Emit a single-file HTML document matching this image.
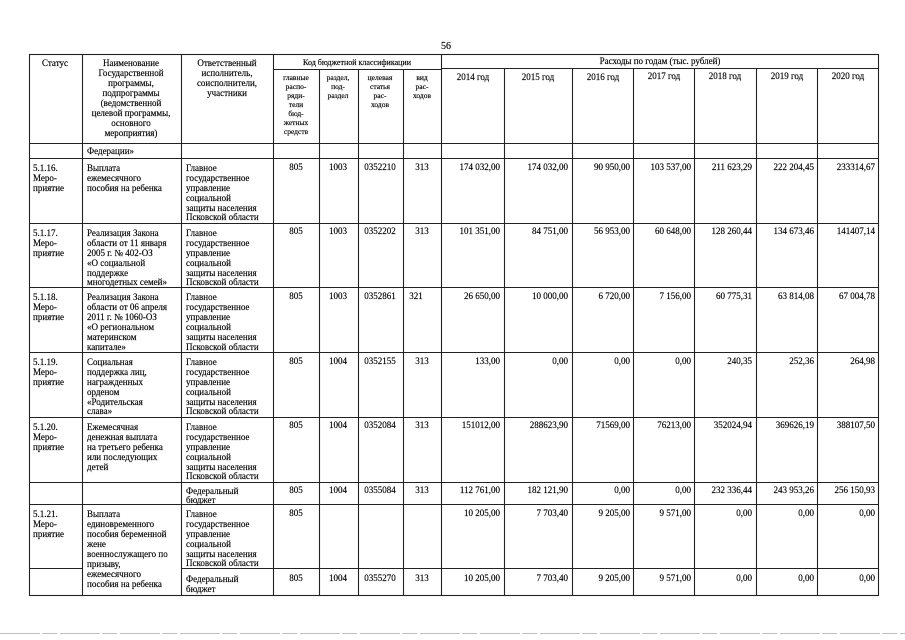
<!DOCTYPE html>
<html><head><meta charset="utf-8"><style>
html,body{margin:0;padding:0;background:#fff;}
svg{display:block;}
text{font-family:"Liberation Serif","DejaVu Serif",serif;font-size:9px;fill:#000;stroke:#000;stroke-width:0.15px;}
.c{text-anchor:middle}.r{text-anchor:end}
</style></head><body>
<svg width="905" height="640" viewBox="0 0 905 640" xmlns="http://www.w3.org/2000/svg">
<rect width="905" height="640" fill="#fff"/>
<g stroke="#222" stroke-width="1.1" fill="none">
<rect x="29.5" y="54.5" width="849" height="541"/>
<line x1="82.5" y1="54" x2="82.5" y2="596"/>
<line x1="181.5" y1="54" x2="181.5" y2="596"/>
<line x1="273.5" y1="54" x2="273.5" y2="596"/>
<line x1="319.5" y1="69" x2="319.5" y2="596"/>
<line x1="358.5" y1="69" x2="358.5" y2="596"/>
<line x1="403.5" y1="69" x2="403.5" y2="596"/>
<line x1="441.5" y1="54" x2="441.5" y2="596"/>
<line x1="504.5" y1="68" x2="504.5" y2="596"/>
<line x1="572.5" y1="68" x2="572.5" y2="596"/>
<line x1="633.5" y1="68" x2="633.5" y2="596"/>
<line x1="694.5" y1="68" x2="694.5" y2="596"/>
<line x1="756.5" y1="68" x2="756.5" y2="596"/>
<line x1="817.5" y1="68" x2="817.5" y2="596"/>
<line x1="273" y1="69.5" x2="441" y2="69.5"/>
<line x1="441" y1="68.5" x2="878" y2="68.5"/>
<line x1="29" y1="143.5" x2="878" y2="143.5"/>
<line x1="29" y1="158.5" x2="878" y2="158.5"/>
<line x1="29" y1="223.5" x2="878" y2="223.5"/>
<line x1="29" y1="287.5" x2="878" y2="287.5"/>
<line x1="29" y1="352.5" x2="878" y2="352.5"/>
<line x1="29" y1="417.5" x2="878" y2="417.5"/>
<line x1="29" y1="482.5" x2="878" y2="482.5"/>
<line x1="29" y1="504.5" x2="878" y2="504.5"/>
<line x1="29" y1="568.5" x2="82" y2="568.5"/>
<line x1="181" y1="568.5" x2="878" y2="568.5"/>
</g>
<text x="446" y="49" class="c" style="font-size:10px">56</text>
<text x="55" y="66" class="c">Статус</text>
<text x="131" y="66" class="c">Наименование</text>
<text x="131" y="76" class="c">Государственной</text>
<text x="131" y="86" class="c">программы,</text>
<text x="131" y="96" class="c">подпрограммы</text>
<text x="131" y="106" class="c">(ведомственной</text>
<text x="131" y="116" class="c">целевой программы,</text>
<text x="131" y="126" class="c">основного</text>
<text x="131" y="136" class="c">мероприятия)</text>
<text x="227" y="66" class="c">Ответственный</text>
<text x="227" y="76" class="c">исполнитель,</text>
<text x="227" y="86" class="c">соисполнители,</text>
<text x="227" y="96" class="c">участники</text>
<text x="357" y="65" class="c" style="font-size:8px">Код бюджетной классификации</text>
<text x="660" y="64" class="c">Расходы по годам (тыс. рублей)</text>
<text x="296" y="80" class="c" style="font-size:7.5px">главные</text>
<text x="296" y="89" class="c" style="font-size:7.5px">распо-</text>
<text x="296" y="98" class="c" style="font-size:7.5px">ряди-</text>
<text x="296" y="107" class="c" style="font-size:7.5px">тели</text>
<text x="296" y="116" class="c" style="font-size:7.5px">бюд-</text>
<text x="296" y="125" class="c" style="font-size:7.5px">жетных</text>
<text x="296" y="134" class="c" style="font-size:7.5px">средств</text>
<text x="338" y="80" class="c" style="font-size:7.5px">раздел,</text>
<text x="338" y="89" class="c" style="font-size:7.5px">под-</text>
<text x="338" y="98" class="c" style="font-size:7.5px">раздел</text>
<text x="380" y="80" class="c" style="font-size:7.5px">целевая</text>
<text x="380" y="89" class="c" style="font-size:7.5px">статья</text>
<text x="380" y="98" class="c" style="font-size:7.5px">рас-</text>
<text x="380" y="107" class="c" style="font-size:7.5px">ходов</text>
<text x="422" y="80" class="c" style="font-size:7.5px">вид</text>
<text x="422" y="89" class="c" style="font-size:7.5px">рас-</text>
<text x="422" y="98" class="c" style="font-size:7.5px">ходов</text>
<text x="473" y="80" class="c">2014 год</text>
<text x="538" y="80" class="c">2015 год</text>
<text x="603" y="80" class="c">2016 год</text>
<text x="664" y="79" class="c">2017 год</text>
<text x="725" y="79" class="c">2018 год</text>
<text x="787" y="79" class="c">2019 год</text>
<text x="848" y="79" class="c">2020 год</text>
<text x="87" y="154">Федерации»</text>

<text x="33" y="171">5.1.16.</text><text x="33" y="181">Меро-</text><text x="33" y="191">приятие</text>
<text x="87" y="171">Выплата</text><text x="87" y="181">ежемесячного</text><text x="87" y="191">пособия на ребенка</text>
<text x="33" y="236">5.1.17.</text><text x="33" y="246">Меро-</text><text x="33" y="256">приятие</text>
<text x="87" y="236">Реализация Закона</text><text x="87" y="246">области от 11 января</text><text x="87" y="256">2005 г. № 402-ОЗ</text><text x="87" y="266">«О социальной</text><text x="87" y="276">поддержке</text><text x="87" y="285">многодетных семей»</text>
<text x="33" y="300">5.1.18.</text><text x="33" y="310">Меро-</text><text x="33" y="320">приятие</text>
<text x="87" y="300">Реализация Закона</text><text x="87" y="310">области от 06 апреля</text><text x="87" y="320">2011 г. № 1060-ОЗ</text><text x="87" y="330">«О региональном</text><text x="87" y="340">материнском</text><text x="87" y="350">капитале»</text>
<text x="33" y="365">5.1.19.</text><text x="33" y="375">Меро-</text><text x="33" y="385">приятие</text>
<text x="87" y="365">Социальная</text><text x="87" y="375">поддержка лиц,</text><text x="87" y="385">награжденных</text><text x="87" y="395">орденом</text><text x="87" y="405">«Родительская</text><text x="87" y="414">слава»</text>
<text x="33" y="430">5.1.20.</text><text x="33" y="440">Меро-</text><text x="33" y="450">приятие</text>
<text x="87" y="430">Ежемесячная</text><text x="87" y="440">денежная выплата</text><text x="87" y="450">на третьего ребенка</text><text x="87" y="460">или последующих</text><text x="87" y="470">детей</text>
<text x="33" y="517">5.1.21.</text><text x="33" y="527">Меро-</text><text x="33" y="537">приятие</text>
<text x="87" y="517">Выплата</text><text x="87" y="527">единовременного</text><text x="87" y="537">пособия беременной</text><text x="87" y="547">жене</text><text x="87" y="557">военнослужащего по</text><text x="87" y="567">призыву,</text><text x="87" y="577">ежемесячного</text><text x="87" y="587">пособия на ребенка</text>

<text x="186" y="171">Главное</text><text x="186" y="181">государственное</text><text x="186" y="191">управление</text><text x="186" y="201">социальной</text><text x="186" y="211">защиты населения</text><text x="186" y="220">Псковской области</text>
<text x="186" y="236">Главное</text><text x="186" y="246">государственное</text><text x="186" y="256">управление</text><text x="186" y="266">социальной</text><text x="186" y="276">защиты населения</text><text x="186" y="285">Псковской области</text>
<text x="186" y="300">Главное</text><text x="186" y="310">государственное</text><text x="186" y="320">управление</text><text x="186" y="330">социальной</text><text x="186" y="340">защиты населения</text><text x="186" y="350">Псковской области</text>
<text x="186" y="365">Главное</text><text x="186" y="375">государственное</text><text x="186" y="385">управление</text><text x="186" y="395">социальной</text><text x="186" y="405">защиты населения</text><text x="186" y="414">Псковской области</text>
<text x="186" y="430">Главное</text><text x="186" y="440">государственное</text><text x="186" y="450">управление</text><text x="186" y="460">социальной</text><text x="186" y="470">защиты населения</text><text x="186" y="479">Псковской области</text>
<text x="186" y="494">Федеральный</text><text x="186" y="503">бюджет</text>
<text x="186" y="517">Главное</text><text x="186" y="527">государственное</text><text x="186" y="537">управление</text><text x="186" y="547">социальной</text><text x="186" y="557">защиты населения</text><text x="186" y="566">Псковской области</text>
<text x="186" y="582">Федеральный</text><text x="186" y="592">бюджет</text>

<text x="296" y="170" class="c">805</text><text x="338" y="170" class="c">1003</text><text x="380" y="170" class="c">0352210</text><text x="422" y="170" class="c">313</text>
<text x="296" y="234" class="c">805</text><text x="338" y="234" class="c">1003</text><text x="380" y="234" class="c">0352202</text><text x="422" y="234" class="c">313</text>
<text x="296" y="299" class="c">805</text><text x="338" y="299" class="c">1003</text><text x="380" y="299" class="c">0352861</text><text x="416" y="299" class="c">321</text>
<text x="296" y="364" class="c">805</text><text x="338" y="364" class="c">1004</text><text x="380" y="364" class="c">0352155</text><text x="422" y="364" class="c">313</text>
<text x="296" y="428" class="c">805</text><text x="338" y="428" class="c">1004</text><text x="380" y="428" class="c">0352084</text><text x="422" y="428" class="c">313</text>
<text x="296" y="493" class="c">805</text><text x="338" y="493" class="c">1004</text><text x="380" y="493" class="c">0355084</text><text x="422" y="493" class="c">313</text>
<text x="296" y="516" class="c">805</text>
<text x="296" y="581" class="c">805</text><text x="338" y="581" class="c">1004</text><text x="380" y="581" class="c">0355270</text><text x="422" y="581" class="c">313</text>

<text x="500" y="170" class="r">174 032,00</text><text x="568" y="170" class="r">174 032,00</text><text x="630" y="170" class="r">90 950,00</text><text x="691" y="170" class="r">103 537,00</text><text x="752" y="170" class="r">211 623,29</text><text x="814" y="170" class="r">222 204,45</text><text x="875" y="170" class="r">233314,67</text>
<text x="500" y="234" class="r">101 351,00</text><text x="568" y="234" class="r">84 751,00</text><text x="630" y="234" class="r">56 953,00</text><text x="691" y="234" class="r">60 648,00</text><text x="752" y="234" class="r">128 260,44</text><text x="814" y="234" class="r">134 673,46</text><text x="875" y="234" class="r">141407,14</text>
<text x="500" y="299" class="r">26 650,00</text><text x="568" y="299" class="r">10 000,00</text><text x="630" y="299" class="r">6 720,00</text><text x="691" y="299" class="r">7 156,00</text><text x="752" y="299" class="r">60 775,31</text><text x="814" y="299" class="r">63 814,08</text><text x="875" y="299" class="r">67 004,78</text>
<text x="500" y="364" class="r">133,00</text><text x="568" y="364" class="r">0,00</text><text x="630" y="364" class="r">0,00</text><text x="691" y="364" class="r">0,00</text><text x="752" y="364" class="r">240,35</text><text x="814" y="364" class="r">252,36</text><text x="875" y="364" class="r">264,98</text>
<text x="500" y="428" class="r">151012,00</text><text x="568" y="428" class="r">288623,90</text><text x="630" y="428" class="r">71569,00</text><text x="691" y="428" class="r">76213,00</text><text x="752" y="428" class="r">352024,94</text><text x="814" y="428" class="r">369626,19</text><text x="875" y="428" class="r">388107,50</text>
<text x="500" y="493" class="r">112 761,00</text><text x="568" y="493" class="r">182 121,90</text><text x="630" y="493" class="r">0,00</text><text x="691" y="493" class="r">0,00</text><text x="752" y="493" class="r">232 336,44</text><text x="814" y="493" class="r">243 953,26</text><text x="875" y="493" class="r">256 150,93</text>
<text x="500" y="516" class="r">10 205,00</text><text x="568" y="516" class="r">7 703,40</text><text x="630" y="516" class="r">9 205,00</text><text x="691" y="516" class="r">9 571,00</text><text x="752" y="516" class="r">0,00</text><text x="814" y="516" class="r">0,00</text><text x="875" y="516" class="r">0,00</text>
<text x="500" y="581" class="r">10 205,00</text><text x="568" y="581" class="r">7 703,40</text><text x="630" y="581" class="r">9 205,00</text><text x="691" y="581" class="r">9 571,00</text><text x="752" y="581" class="r">0,00</text><text x="814" y="581" class="r">0,00</text><text x="875" y="581" class="r">0,00</text>
<line x1="0" y1="633.5" x2="905" y2="633.5" stroke="#aaa" stroke-width="0.8" stroke-dasharray="40 2 15 3"/>
</svg>
</body></html>
